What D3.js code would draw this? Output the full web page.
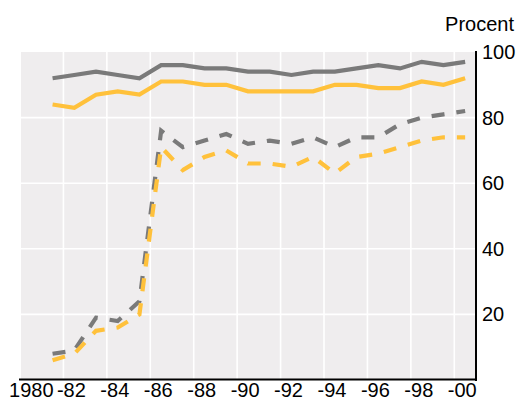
<!DOCTYPE html>
<html>
<head>
<meta charset="utf-8">
<script src="https://cdn.jsdelivr.net/npm/d3@7"></script>
<style>
  html, body { margin: 0; padding: 0; background: #ffffff; }
  svg { display: block; }
  text { font-family: "Liberation Sans", Arial, Helvetica, sans-serif; fill: #000; }
</style>
</head>
<body>
<svg id="chart" width="520" height="399"></svg>
<script>
// Yearly shares (per cent), 1981–2000
const years = [1981, 1982, 1983, 1984, 1985, 1986, 1987, 1988, 1989, 1990,
               1991, 1992, 1993, 1994, 1995, 1996, 1997, 1998, 1999, 2000];

const greySolid   = [92, 93, 94, 93, 92, 96, 96, 95, 95, 94, 94, 93, 94, 94, 95, 96, 95, 97, 96, 97];
const yellowSolid = [84, 83, 87, 88, 87, 91, 91, 90, 90, 88, 88, 88, 88, 90, 90, 89, 89, 91, 90, 92];
const greyDashed  = [8, 9, 19, 18, 24, 76, 71, 73, 75, 72, 73, 72, 74, 71, 74, 74, 78, 80, 81, 82];
const yellowDashed= [6, 8, 15, 16, 20, 71, 64, 68, 70, 66, 66, 65, 68, 63, 68, 69, 71, 73, 74, 74];

const xTickYears  = [1980, 1982, 1984, 1986, 1988, 1990, 1992, 1994, 1996, 1998, 2000];
const xTickLabels = ["1980", "-82", "-84", "-86", "-88", "-90", "-92", "-94", "-96", "-98", "-00"];
const yTicks      = [20, 40, 60, 80, 100];
const unitLabel   = "Procent";

const GREY = "#7a7a7a";
const YELLOW = "#ffc13b";
const PANEL = "#efedee";

(function draw() {
  const svg = d3.select("#chart");
  const plotLeft = 20, plotRight = 476, plotTop = 52, plotBottom = 380;

  const x = d3.scaleLinear().domain([1980, 2001]).range([plotLeft, plotRight]);
  const y = d3.scaleLinear().domain([0, 100]).range([plotBottom, plotTop]);

  // panel
  svg.append("rect")
    .attr("x", plotLeft + 1).attr("y", y(100))
    .attr("width", plotRight - plotLeft - 1).attr("height", plotBottom - y(100))
    .attr("fill", PANEL);

  // grid
  const grid = svg.append("g").attr("stroke", "#ffffff").attr("stroke-width", 1.6);
  grid.selectAll("line.h").data(yTicks.filter(v => v < 100)).join("line")
    .attr("class", "h")
    .attr("x1", plotLeft + 1).attr("x2", plotRight)
    .attr("y1", d => y(d)).attr("y2", d => y(d));
  grid.selectAll("line.v").data(xTickYears.filter(v => v > 1980)).join("line")
    .attr("class", "v")
    .attr("x1", d => x(d)).attr("x2", d => x(d))
    .attr("y1", y(100)).attr("y2", plotBottom);

  // series: each point sits in the middle of its year
  const line = d3.line().x((d, i) => x(years[i] + 0.5)).y(d => y(d));

  const series = [
    { values: greyDashed,   color: GREY,   dash: "13,12" },
    { values: yellowDashed, color: YELLOW, dash: "13,12" },
    { values: greySolid,    color: GREY,   dash: null },
    { values: yellowSolid,  color: YELLOW, dash: null }
  ];
  svg.append("g").selectAll("path").data(series).join("path")
    .attr("d", d => line(d.values))
    .attr("fill", "none")
    .attr("stroke", d => d.color)
    .attr("stroke-width", 4.2)
    .attr("stroke-linejoin", "miter")
    .attr("stroke-dasharray", d => d.dash);

  // right axis
  const yAxis = d3.axisRight(y).tickValues(yTicks).tickSize(0).tickPadding(6);
  const gy = svg.append("g").attr("transform", `translate(${plotRight},0)`).call(yAxis);
  gy.select(".domain").remove();
  gy.selectAll("text")
    .attr("font-size", 20)
    .attr("font-family", "Liberation Sans, Arial, sans-serif")
    .attr("fill", "#000");
  svg.append("line")
    .attr("x1", plotRight).attr("x2", plotRight)
    .attr("y1", y(100) - 1).attr("y2", plotBottom + 1)
    .attr("stroke", "#000").attr("stroke-width", 2);

  // bottom axis
  const xAxis = d3.axisBottom(x).tickValues(xTickYears).tickSize(0)
    .tickFormat((d, i) => xTickLabels[i]);
  const gx = svg.append("g").attr("transform", `translate(0,${plotBottom})`).call(xAxis);
  gx.select(".domain").remove();
  gx.selectAll("text")
    .attr("font-size", 20)
    .attr("font-family", "Liberation Sans, Arial, sans-serif")
    .attr("fill", "#000")
    .attr("dy", null)
    .attr("y", 17)
    .attr("x", x(1980.5) - x(1980))
    .attr("dx", (d, i) => xTickLabels[i].startsWith("-") ? "-0.17em" : null);
  svg.append("line")
    .attr("x1", plotLeft - 1).attr("x2", plotRight + 1)
    .attr("y1", plotBottom - 0.5).attr("y2", plotBottom - 0.5)
    .attr("stroke", "#000").attr("stroke-width", 2);

  // unit label
  svg.append("text")
    .attr("x", 514).attr("y", 31)
    .attr("text-anchor", "end")
    .attr("font-size", 20)
    .text(unitLabel);
})();
</script>
</body>
</html>
